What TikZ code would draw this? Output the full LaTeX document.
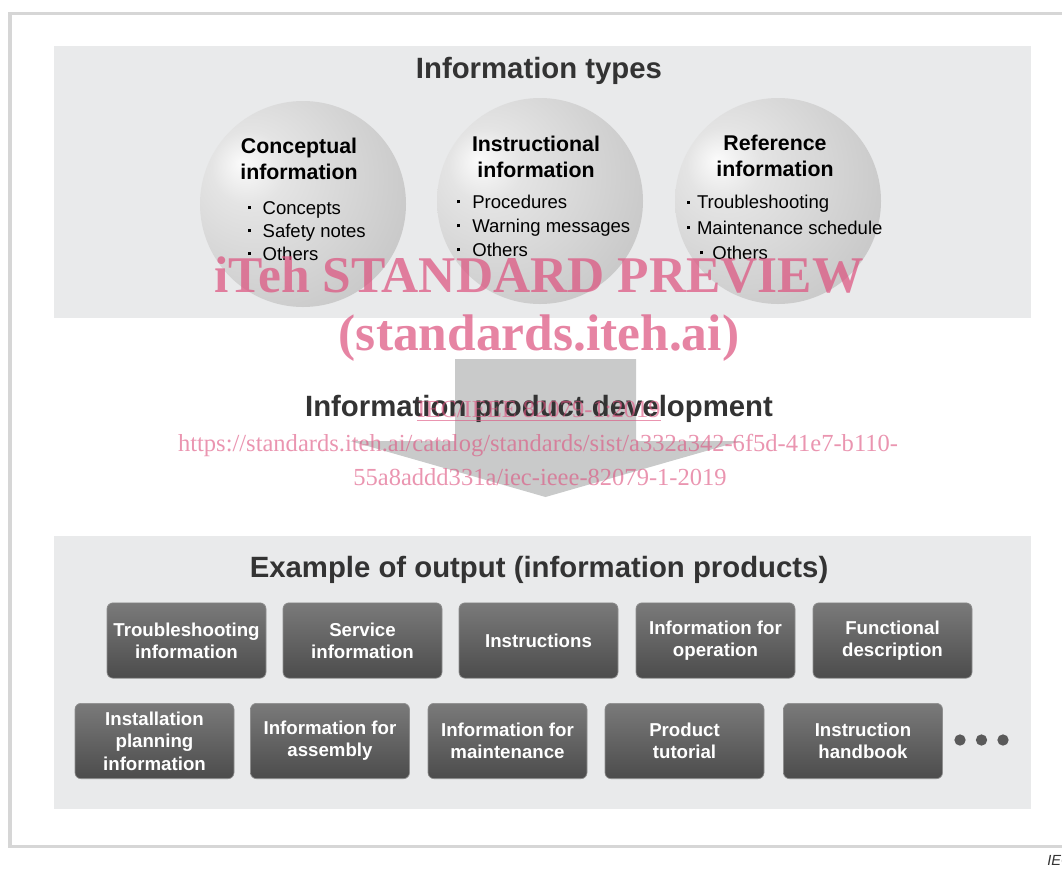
\documentclass[tikz,border=0pt]{standalone}
\usepackage{fontspec}
\setmainfont{Liberation Sans}
\newfontfamily\wmfont{Liberation Serif}
\definecolor{framegray}{HTML}{D6D6D6}
\definecolor{panelgray}{HTML}{E9EAEB}
\definecolor{arrowgray}{HTML}{C9CACA}
\definecolor{titlegray}{HTML}{333333}
\definecolor{sphA}{HTML}{FBFBFB}
\definecolor{sphB}{HTML}{E4E4E4}
\definecolor{sphC}{HTML}{CACACA}
\definecolor{sphD}{HTML}{B5B6B6}
\definecolor{boxtop}{HTML}{7A7A7A}
\definecolor{boxbot}{HTML}{4C4C4C}
\definecolor{boxrim}{HTML}{8E8E8E}
\definecolor{dotgray}{HTML}{5A5A5A}
\definecolor{wmpink}{RGB}{221,84,128}
\pgfdeclareradialshading{sph}{\pgfpoint{-15bp}{10bp}}{color(0bp)=(sphA); color(9bp)=(sphB); color(34bp)=(sphC); color(56bp)=(sphD); color(75bp)=(sphD)}
\newcommand{\sqb}{\raisebox{0.28em}{\rule{2.3pt}{2.3pt}}}
\begin{document}
\begin{tikzpicture}[x=0.75pt,y=-0.75pt,
  panelbox/.style={fill=panelgray},
  sphere/.style={circle, shading=sph, minimum size=154.5pt, inner sep=0pt},
  ttl/.style={font=\bfseries\fontsize{22}{26}\selectfont, text=titlegray, inner sep=0pt},
  ctitle/.style={font=\bfseries\fontsize{16}{19.5}\selectfont, align=center, inner sep=0pt, text=black},
  clist/.style={font=\fontsize{13.9}{17.5}\selectfont, align=left, inner sep=0pt, anchor=west, text=black},
  obox/.style={rounded corners=4.5pt, top color=boxtop, bottom color=boxbot, draw=boxrim, line width=0.5pt,
    minimum width=119.25pt, minimum height=56.5pt, inner sep=0pt, align=center, text=white,
    font=\bfseries\fontsize{14}{16.5}\selectfont},
  dotc/.style={circle, fill=dotgray, minimum size=8.5pt, inner sep=0pt},
  wmbig/.style={font=\wmfont\bfseries\fontsize{38.6}{40}\selectfont, text=wmpink, text opacity=0.72, inner sep=0pt},
  wmsmall/.style={font=\wmfont\fontsize{18.4}{22}\selectfont, text=wmpink, text opacity=0.62, inner sep=0pt}
]
\useasboundingbox (0,0) rectangle (1062,868);
% outer frame
\draw[framegray, line width=2.3pt] (10,13.5) rectangle (1080,846.5);
\node[anchor=north west, inner sep=0pt, font=\itshape\fontsize{11}{13}\selectfont, text=titlegray] (iec) at (1047,855) {IEC};
% panels
\fill[panelgray] (54,46) rectangle (1031,318);
\fill[panelgray] (54,536) rectangle (1031,809);
% top panel
\node[ttl] (t1) at (539,71) {Information types};
\node[sphere] (c1) at (303,204) {};
\node[sphere] (c2) at (540,201) {};
\node[sphere] (c3) at (778,201) {};
\node[ctitle] (h1) at (299,159) {Conceptual\\information};
\node[ctitle] (h2) at (536,157) {Instructional\\information};
\node[ctitle] (h3) at (775,156) {Reference\\information};
\node[clist, font=\fontsize{13.9}{17.25}\selectfont] (l1) at (248,231) {\sqb\hspace{8.5pt}Concepts\\\sqb\hspace{8.5pt}Safety notes\\\sqb\hspace{8.5pt}Others};
\node[clist, font=\fontsize{13.9}{18}\selectfont] (l2) at (457,226) {\sqb\hspace{9pt}Procedures\\\sqb\hspace{9pt}Warning messages\\\sqb\hspace{9pt}Others};
\node[clist, font=\fontsize{13.9}{19}\selectfont] (l3) at (687,227.5) {\sqb\hspace{5pt}Troubleshooting\\\sqb\hspace{5pt}Maintenance schedule\\\hspace{9.5pt}\sqb\hspace{7pt}Others};
% arrow
\fill[arrowgray] (455,359) -- (636,359) -- (636,441) -- (741,441) -- (545.5,497) -- (350,441) -- (455,441) -- cycle;
\node[ttl] (dev) at (539,409) {Information product development};
% bottom panel
\node[ttl] (t2) at (539,570) {Example of output (information products)};
\node[obox] (b1) at (186.5,640.5) {Troubleshooting\\information};
\node[obox] (b2) at (362.5,640.5) {Service\\information};
\node[obox] (b3) at (538.5,640.5) {Instructions};
\node[obox] (b4) at (715.5,640.5) {Information for\\operation};
\node[obox] (b5) at (892.5,640.5) {Functional\\description};
\node[obox, font=\bfseries\fontsize{14}{16.8}\selectfont] (b6) at (154.5,741) {Installation\\planning\\information};
\node[obox] (b7) at (330,741) {Information for\\assembly};
\node[obox] (b8) at (507.5,741) {Information for\\maintenance};
\node[obox] (b9) at (684.5,741) {Product\\tutorial};
\node[obox] (b10) at (863,741) {Instruction\\handbook};
\node[dotc] (d1) at (960,740) {};
\node[dotc] (d2) at (981.5,740) {};
\node[dotc] (d3) at (1003,740) {};
% watermark
\node[wmbig] (w1) at (539,275) {iTeh STANDARD PREVIEW};
\node[wmbig] (w2) at (539,338) {(standards.iteh.ai)};
\node[wmsmall] (w3) at (539,411) {\underline{IEC/IEEE 82079-1:2019}};
\node[wmsmall] (w4) at (538,445) {https://standards.iteh.ai/catalog/standards/sist/a332a342-6f5d-41e7-b110-};
\node[wmsmall] (w5) at (540,477) {55a8addd331a/iec-ieee-82079-1-2019};
\end{tikzpicture}
\end{document}
